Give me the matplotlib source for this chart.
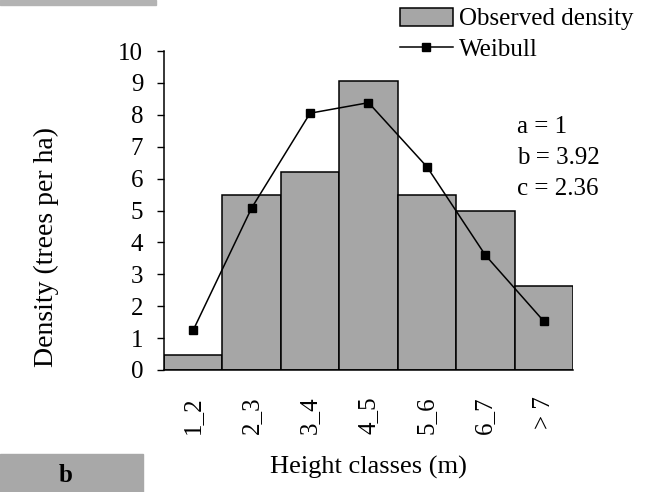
import numpy as np
import matplotlib
matplotlib.use('Agg')
import matplotlib.pyplot as plt
from matplotlib.patches import Rectangle

plt.rcParams['font.family'] = 'Liberation Serif'

classes = ['1_2', '2_3', '3_4', '4_5', '5_6', '6_7', '> 7']
observed = [0.48, 5.48, 6.2, 9.05, 5.48, 5.0, 2.62]
weibull = [1.25, 5.08, 8.05, 8.38, 6.37, 3.6, 1.53]
params = ['a = 1', 'b = 3.92', 'c = 2.36']

fig = plt.figure(figsize=(6.49, 4.92), dpi=100)
ax = fig.add_axes([164/649, 1-370/492, (573-164)/649, (370-51)/492])

x = np.arange(len(classes))
bars = ax.bar(x, observed, width=1.0, color='#a6a6a6', edgecolor='black', lw=1.1,
              label='Observed density', zorder=1)
line, = ax.plot(x, weibull, '-s', color='black', lw=1.1, ms=6, label='Weibull', zorder=3)

ax.set_xlim(-0.5, 6.5)
ax.set_ylim(0, 10)
ax.set_yticks(range(0, 11))
ax.set_xticks(x)
ax.set_xticklabels(classes, rotation=90, va='top', ha='center')
ax.tick_params(axis='x', length=0, pad=19, labelsize=18)
ax.tick_params(axis='y', length=5, width=1, pad=10, labelsize=18)
for s in ['top', 'right']:
    ax.spines[s].set_visible(False)
ax.spines['left'].set_linewidth(1.1)
ax.spines['bottom'].set_linewidth(1.1)

# axis titles sit where the original figure put them
fig.text(46/649, 1-247/492, 'Density (trees per ha)', fontsize=20, rotation=90,
         ha='center', va='center')
fig.text(368/649, 1-467/492, 'Height classes (m)', fontsize=19,
         ha='center', va='center')

for i, t in enumerate(params):
    fig.text(517/649, 1-(127+31*i)/492, t, fontsize=18, ha='left', va='center')

fig.legend([bars, line], ['Observed density', 'Weibull'], loc='upper left',
           bbox_to_anchor=(400/649, 1-8/492), frameon=False,
           fontsize=18, borderaxespad=0, borderpad=0, handlelength=2.1,
           handletextpad=0.25, labelspacing=0.3)

# grey boxes at the page edges
fig.patches.append(Rectangle((0, 1-5/492), 156/649, 5/492, transform=fig.transFigure,
                             color='#b3b3b3', zorder=0))
fig.patches.append(Rectangle((0, 0), 143/649, 38/492, transform=fig.transFigure,
                             color='#a8a8a8', zorder=0))
fig.text(66/649, 1-475/492, 'b', fontsize=18, fontweight='bold', ha='center', va='center')

fig.savefig('out.png', dpi=100)
